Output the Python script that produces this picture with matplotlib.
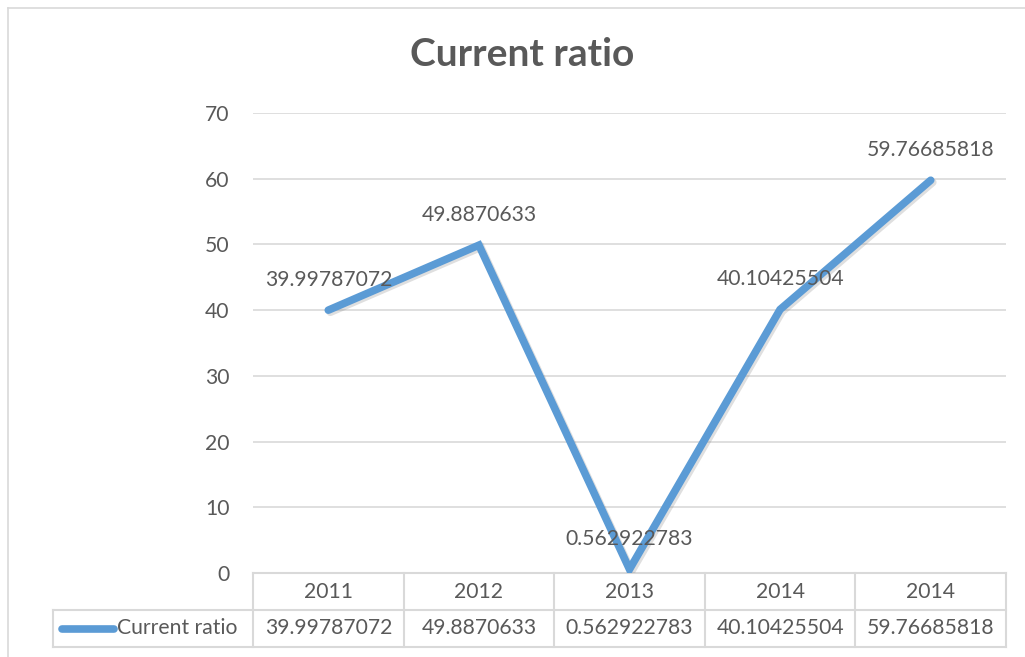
import matplotlib
matplotlib.use("Agg")
from matplotlib import pyplot as plt
from matplotlib import patheffects as pe
from matplotlib.transforms import blended_transform_factory
import numpy as np

years = ["2011", "2012", "2013", "2014", "2014"]
ratio = [39.99787072, 49.8870633, 0.562922783, 40.10425504, 59.76685818]
ratio_text = ["39.99787072", "49.8870633", "0.562922783", "40.10425504", "59.76685818"]
series_name = "Current ratio"

W, H = 1025, 657
txt = "#595959"
grid = "#D9D9D9"
blue = "#5B9BD5"
fs = 15.2
plt.rcParams["font.family"] = ["Lato", "DejaVu Sans"]

fig = plt.figure(figsize=(W / 100, H / 100), dpi=100)

# chart area border (only top/left show in the crop)
fig.add_artist(plt.Line2D([8 / W, 8 / W], [0, 1 - 8 / H], color=grid, lw=1.2))
fig.add_artist(plt.Line2D([8 / W, 1], [1 - 8 / H, 1 - 8 / H], color=grid, lw=1.2))

left, right, top, bottom = 253, 1006, 113, 573
ax = fig.add_axes([left / W, 1 - bottom / H, (right - left) / W, (bottom - top) / H])
x = np.arange(len(years))
ax.set_xlim(-0.5, len(years) - 0.5)
ax.set_ylim(0, 70)
ax.set_yticks(range(0, 71, 10))
ax.set_xticks([])
ax.grid(axis="y", color=grid, lw=1.2)
ax.set_axisbelow(True)
for s in ax.spines.values():
    s.set_visible(False)
ax.tick_params(axis="y", length=0, pad=17, labelsize=fs, labelcolor=txt)

ax.plot(x, ratio, color=blue, lw=5.5, solid_capstyle="round", solid_joinstyle="miter",
        path_effects=[pe.SimpleLineShadow(offset=(1.5, -1.5), alpha=0.25, shadow_color="gray"), pe.Normal()],
        zorder=3)
for xi, v, t in zip(x, ratio, ratio_text):
    ax.annotate(t, (xi, v), xytext=(0, 22), textcoords="offset points",
                ha="center", va="center", fontsize=fs, color=txt, zorder=4)

fig.text(522 / W, 1 - 55 / H, "Current ratio", ha="center", va="center",
         fontsize=28, fontweight="bold", color=txt)

# data table under the plot
tr = blended_transform_factory(ax.transData, fig.transFigure)
row1, row2, row3 = 1 - 573 / H, 1 - 610 / H, 1 - 647 / H
lkw = dict(color=grid, lw=1.5, transform=tr, clip_on=False)
for b in np.arange(-0.5, len(years), 1.0):
    ax.plot([b, b], [row1, row3], **lkw)
ax.plot([-0.5, len(years) - 0.5], [row1, row1], **lkw)
fig.add_artist(plt.Line2D([53 / W, right / W], [row2, row2], color=grid, lw=1.5))
fig.add_artist(plt.Line2D([53 / W, right / W], [row3, row3], color=grid, lw=1.5))
fig.add_artist(plt.Line2D([53 / W, 53 / W], [row2, row3], color=grid, lw=1.5))
for xi, y_, t in zip(x, years, ratio_text):
    ax.text(xi, (row1 + row2) / 2, y_, transform=tr, ha="center", va="center",
            fontsize=fs, color=txt)
    ax.text(xi, (row2 + row3) / 2, t, transform=tr, ha="center", va="center",
            fontsize=fs, color=txt)
mid = (row2 + row3) / 2
fig.add_artist(plt.Line2D([62 / W, 114 / W], [mid, mid], color=blue, lw=5.5, solid_capstyle="round"))
fig.text(117 / W, mid, series_name, ha="left", va="center", fontsize=fs, color=txt)

fig.savefig("out.png", dpi=100)
